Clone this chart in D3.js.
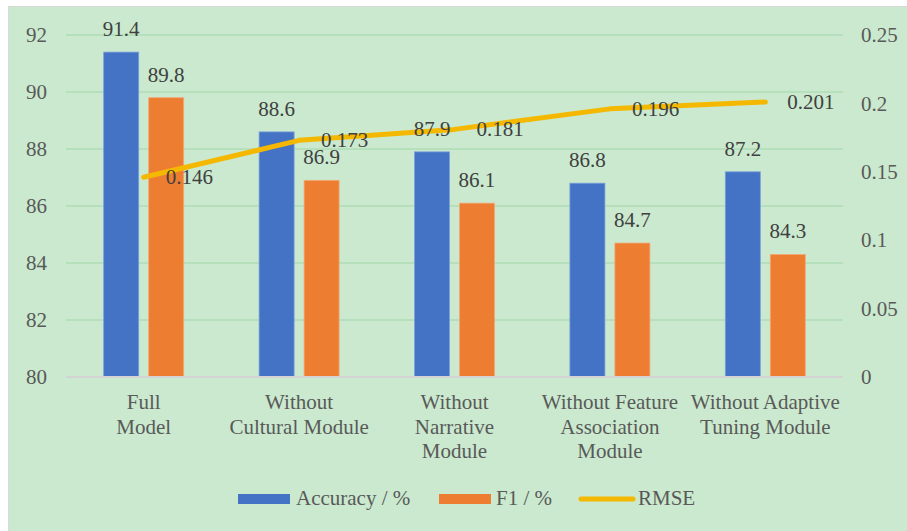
<!DOCTYPE html>
<html>
<head>
<meta charset="utf-8">
<script src="https://cdn.jsdelivr.net/npm/d3@7/dist/d3.min.js"></script>
<style>
  html, body { margin: 0; padding: 0; background: #ffffff; }
  svg { display: block; }
  text { font-family: "Liberation Serif", "Times New Roman", serif; }
</style>
</head>
<body>
<svg id="chart" width="907" height="531"></svg>
<script>
// Ablation results per model variant
const categories = [
  "Full\nModel",
  "Without\nCultural Module",
  "Without\nNarrative\nModule",
  "Without Feature\nAssociation\nModule",
  "Without Adaptive\nTuning Module"
];
const accuracy = [91.4, 88.6, 87.9, 86.8, 87.2];
const f1 = [89.8, 86.9, 86.1, 84.7, 84.3];
const rmse = [0.146, 0.173, 0.181, 0.196, 0.201];
const leftTicks = [80, 82, 84, 86, 88, 90, 92];
const rightTicks = [0, 0.05, 0.1, 0.15, 0.2, 0.25];
const seriesNames = ["Accuracy / %", "F1 / %", "RMSE"];

const colors = { acc: "#4472c4", f1: "#ed7d31", rmse: "#f5b800" };
const axisText = "#595959";
const labelText = "#404040";
const fontSize = 21;
const serif = "'Liberation Serif', 'Times New Roman', serif";

const svg = d3.select("#chart");

// chart panel
svg.append("rect")
  .attr("x", 8.5).attr("y", 6.5)
  .attr("width", 907).attr("height", 531)
  .attr("fill", "#cae9ce")
  .attr("stroke", "#d9d9d9").attr("stroke-width", 1);

const plot = { left: 66, right: 843, top: 35, bottom: 377 };

const x = d3.scaleBand()
  .domain(categories)
  .range([plot.left, plot.right])
  .padding(0);

const x1 = d3.scaleBand()
  .domain(["acc", "f1"])
  .range([0, 80])
  .paddingInner(0.222)
  .paddingOuter(0);

const yL = d3.scaleLinear().domain([80, 92]).range([plot.bottom, plot.top]);
const yR = d3.scaleLinear().domain([0, 0.25]).range([plot.bottom, plot.top]);

// gridlines
svg.append("g")
  .selectAll("line")
  .data(leftTicks.filter(t => t !== 80))
  .join("line")
  .attr("x1", plot.left).attr("x2", plot.right)
  .attr("y1", d => yL(d)).attr("y2", d => yL(d))
  .attr("stroke", "#aedcb4").attr("stroke-width", 1.5);

// left axis
const leftAxis = svg.append("g")
  .attr("transform", `translate(${plot.left},0)`)
  .call(d3.axisLeft(yL).tickValues(leftTicks).tickSize(0).tickPadding(19).tickFormat(d3.format("d")));
leftAxis.attr("font-family", serif);
leftAxis.select(".domain").remove();
leftAxis.selectAll("text")
  .attr("fill", axisText).attr("font-size", fontSize);

// right axis
const rightAxis = svg.append("g")
  .attr("transform", `translate(${plot.right},0)`)
  .call(d3.axisRight(yR).tickValues(rightTicks).tickSize(0).tickPadding(18).tickFormat(d => String(+d.toFixed(2))));
rightAxis.attr("font-family", serif);
rightAxis.select(".domain").remove();
rightAxis.selectAll("text")
  .attr("fill", axisText).attr("font-size", fontSize);

// bars
const groupData = categories.map((c, i) => ({ c, acc: accuracy[i], f1: f1[i] }));
const groupX = d => x(d.c) + x.bandwidth() / 2 - 40;

const groups = svg.append("g")
  .selectAll("g")
  .data(groupData)
  .join("g")
  .attr("transform", d => `translate(${groupX(d)},0)`);

["acc", "f1"].forEach(key => {
  groups.append("rect")
    .attr("x", x1(key))
    .attr("width", x1.bandwidth())
    .attr("y", d => yL(d[key]))
    .attr("height", d => yL(80) - yL(d[key]))
    .attr("fill", colors[key])
    .attr("stroke", key === "acc" ? "#7c9fde" : "#f4a877")
    .attr("stroke-width", 0.8);
});

// baseline
svg.append("line")
  .attr("x1", plot.left).attr("x2", plot.right)
  .attr("y1", yL(80)).attr("y2", yL(80))
  .attr("stroke", "#d3d3d3").attr("stroke-width", 2);

// RMSE line
const cx = c => x(c) + x.bandwidth() / 2;
const line = d3.line().x(d => cx(d.c)).y(d => yR(d.v));
const rmseData = categories.map((c, i) => ({ c, v: rmse[i] }));
svg.append("path")
  .datum(rmseData)
  .attr("d", line)
  .attr("fill", "none")
  .attr("stroke", colors.rmse).attr("stroke-width", 5)
  .attr("stroke-linecap", "round").attr("stroke-linejoin", "round");

// data labels, drawn above all series
const barLabels = svg.append("g")
  .selectAll("g")
  .data(groupData)
  .join("g")
  .attr("transform", d => `translate(${groupX(d)},0)`);
["acc", "f1"].forEach(key => {
  barLabels.append("text")
    .attr("x", x1(key) + x1.bandwidth() / 2)
    .attr("y", d => yL(d[key]) - 16)
    .attr("text-anchor", "middle")
    .attr("fill", labelText).attr("font-size", fontSize)
    .text(d => d[key].toFixed(1));
});

svg.append("g")
  .selectAll("text")
  .data(rmseData)
  .join("text")
  .attr("x", d => cx(d.c) + 22)
  .attr("y", d => yR(d.v) + 7)
  .attr("fill", labelText).attr("font-size", fontSize)
  .text(d => d.v.toFixed(3));

// category labels
const xl = svg.append("g")
  .selectAll("text")
  .data(categories)
  .join("text")
  .attr("text-anchor", "middle")
  .attr("fill", axisText).attr("font-size", fontSize)
  .attr("transform", d => `translate(${cx(d)},${plot.bottom + 32})`);
xl.selectAll("tspan")
  .data(d => d.split("\n"))
  .join("tspan")
  .attr("x", 0)
  .attr("y", (d, i) => i * 24.5)
  .text(d => d);

// legend
const legend = svg.append("g");
legend.append("rect").attr("x", 238).attr("y", 494).attr("width", 52).attr("height", 10).attr("fill", colors.acc);
legend.append("text").attr("x", 296).attr("y", 505).attr("fill", axisText).attr("font-size", fontSize).text(seriesNames[0]);
legend.append("rect").attr("x", 439).attr("y", 494).attr("width", 52).attr("height", 10).attr("fill", colors.f1);
legend.append("text").attr("x", 496).attr("y", 505).attr("fill", axisText).attr("font-size", fontSize).text(seriesNames[1]);
legend.append("line").attr("x1", 581).attr("x2", 633).attr("y1", 499).attr("y2", 499)
  .attr("stroke", colors.rmse).attr("stroke-width", 5).attr("stroke-linecap", "round");
legend.append("text").attr("x", 638).attr("y", 505).attr("fill", axisText).attr("font-size", fontSize).text(seriesNames[2]);
</script>
</body>
</html>
